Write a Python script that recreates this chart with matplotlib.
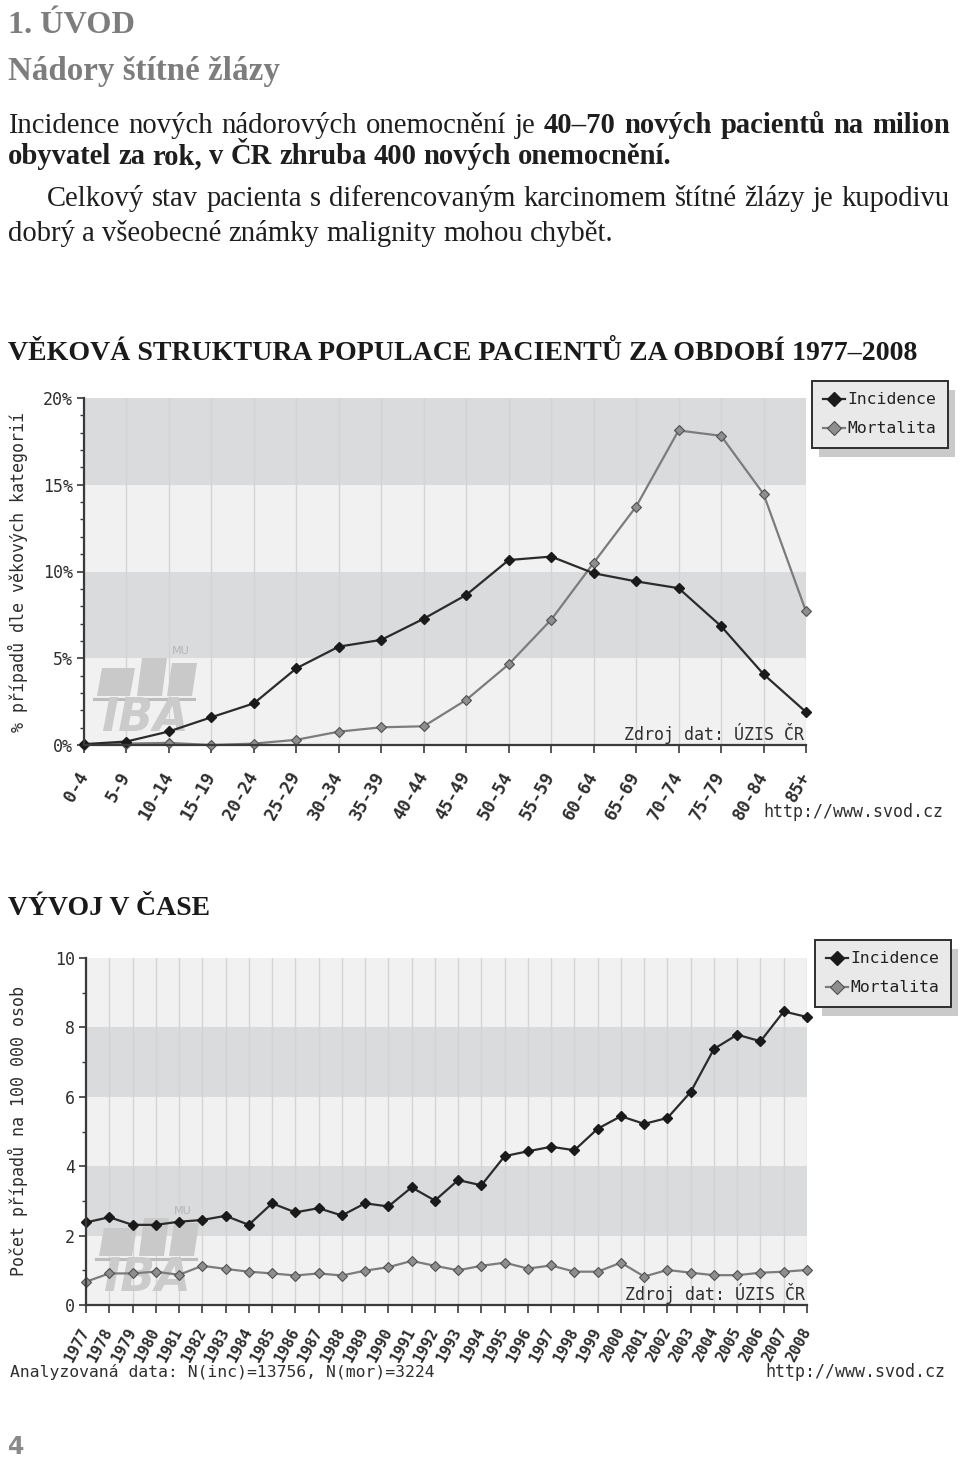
import matplotlib
matplotlib.use('Agg')
import matplotlib.pyplot as plt
from matplotlib.patches import Rectangle, Polygon
from matplotlib.lines import Line2D
from matplotlib.transforms import ScaledTranslation

W, H = 960, 1459
DPI = 100

# ---------------- data ----------------
age_groups = ['0-4', '5-9', '10-14', '15-19', '20-24', '25-29', '30-34', '35-39', '40-44',
              '45-49', '50-54', '55-59', '60-64', '65-69', '70-74', '75-79', '80-84', '85+']
age_incidence = [0.05, 0.2, 0.78, 1.6, 2.4, 4.42, 5.67, 6.06, 7.28, 8.65, 10.66, 10.86,
                 9.9, 9.43, 9.04, 6.85, 4.08, 1.9]
age_mortality = [0.0, 0.08, 0.12, 0.0, 0.08, 0.3, 0.77, 1.02, 1.08, 2.6, 4.65, 7.22,
                 10.5, 13.74, 18.13, 17.82, 14.47, 7.7]

years = [str(y) for y in range(1977, 2009)]
year_incidence = [2.38, 2.53, 2.31, 2.31, 2.40, 2.45, 2.57, 2.31, 2.93, 2.67, 2.79, 2.58,
                  2.93, 2.84, 3.39, 3.01, 3.60, 3.45, 4.29, 4.43, 4.56, 4.46, 5.08, 5.44,
                  5.22, 5.39, 6.14, 7.38, 7.79, 7.60, 8.46, 8.30]
year_mortality = [0.67, 0.91, 0.91, 0.96, 0.87, 1.13, 1.04, 0.96, 0.91, 0.85, 0.91, 0.85,
                  0.99, 1.09, 1.27, 1.13, 1.00, 1.13, 1.22, 1.05, 1.14, 0.96, 0.96, 1.22,
                  0.82, 1.01, 0.93, 0.86, 0.86, 0.93, 0.96, 1.01]

age_yticks = [0, 5, 10, 15, 20]
year_yticks = [0, 2, 4, 6, 8, 10]
series_names = ['Incidence', 'Mortalita']

# ---------------- setup ----------------
fig = plt.figure(figsize=(W / DPI, H / DPI), dpi=DPI)
fig.patch.set_facecolor('white')

MONO = 'DejaVu Sans Mono'
SERIF = 'Liberation Serif'
CTXT = '#2e2e2e'
DARK_BAND = '#dadbdd'
LIGHT_BAND = '#f1f1f1'
GRID = '#d4d4d4'
INC_C = '#2b2b2b'
MOR_C = '#7c7c7c'


def fx(px):
    return px / W


def fy(py):
    return 1 - py / H


renderer = fig.canvas.get_renderer()


def measure(s, size, weight):
    t = fig.text(0, 0, s, fontsize=size, fontweight=weight, family=SERIF)
    w = t.get_window_extent(renderer).width
    t.remove()
    return w


def space_w(size, weight):
    return measure('a a', size, weight) - measure('aa', size, weight)


def place_words(words, x0, baseline, size, color, target=None):
    widths = [measure(w, size, wt) for w, wt in words]
    sp = space_w(size, 'normal')
    n = len(words)
    natural = sum(widths) + sp * (n - 1)
    if target is not None and natural > target:
        size = size * target / natural * 0.995
        widths = [measure(w, size, wt) for w, wt in words]
        sp = space_w(size, 'normal')
    if target is not None and n > 1:
        gap = (target - sum(widths)) / (n - 1)
    else:
        gap = sp
    x = x0
    for (w, wt), wd in zip(words, widths):
        fig.text(fx(x), fy(baseline), w, fontsize=size, fontweight=wt, family=SERIF,
                 color=color, ha='left', va='baseline')
        x += wd + gap


def fit_text(s, x0, x1, baseline, weight, color, base=20):
    w = measure(s, base, weight)
    size = base * (x1 - x0) / w
    fig.text(fx(x0), fy(baseline), s, fontsize=size, fontweight=weight, family=SERIF,
             color=color, ha='left', va='baseline')


# ---------------- page text ----------------
fit_text('1. ÚVOD', 8, 135, 33, 'bold', '#7d7d7d')
fit_text('Nádory štítné žlázy', 8, 279, 80, 'bold', '#7d7d7d')

line4 = 'dobrý a všeobecné známky malignity mohou chybět.'
psize = 20 * 604 / measure(line4, 20, 'normal')
PC = '#1e1e1e'

l1 = [(w, 'normal') for w in 'Incidence nových nádorových onemocnění je'.split()] + \
     [(w, 'bold') for w in '40–70 nových pacientů na milion'.split()]
place_words(l1, 8, 133, psize, PC, target=942)
l2 = [(w, 'bold') for w in 'obyvatel za rok, v ČR zhruba 400 nových onemocnění.'.split()]
place_words(l2, 8, 164, psize, PC)
l3 = [(w, 'normal') for w in
      'Celkový stav pacienta s diferencovaným karcinomem štítné žlázy je kupodivu'.split()]
place_words(l3, 47, 206, psize, PC, target=903)
place_words([(w, 'normal') for w in line4.split()], 8, 241, psize, PC)

fit_text('VĚKOVÁ STRUKTURA POPULACE PACIENTŮ ZA OBDOBÍ 1977–2008', 8, 918, 360, 'bold', '#1a1a1a')
fit_text('VÝVOJ V ČASE', 8, 210, 915, 'bold', '#1a1a1a')

fig.text(fx(8), fy(1454), '4', fontsize=17, fontweight='bold', family='DejaVu Sans',
         color='#8a8a8a', ha='left', va='baseline')


# ---------------- charts ----------------
def add_logo(ax, wpx, hpx):
    def ax_pt(dx, dy):
        return (dx / wpx, dy / hpx)
    blocks = [(13, 46, 77), (53, 78, 87), (83, 108, 82)]
    for x0, x1, top in blocks:
        pts = [ax_pt(x0, 49), ax_pt(x1, 49), ax_pt(x1 + 5, top), ax_pt(x0 + 5, top)]
        ax.add_patch(Polygon(pts, closed=True, transform=ax.transAxes,
                             facecolor='#c9c9c9', edgecolor='none', zorder=1.5))
    ax.add_line(Line2D([10 / wpx, 110 / wpx], [46 / hpx, 46 / hpx], transform=ax.transAxes,
                       color='#bdbdbd', lw=2.2, zorder=1.5))
    ax.text(17 / wpx, 4 / hpx, 'IBA', transform=ax.transAxes, fontsize=33, fontweight='bold',
            fontstyle='italic', family='DejaVu Sans', color='#cbcbcb', ha='left',
            va='bottom', zorder=1.5)
    ax.text(88 / wpx, 89 / hpx, 'MU', transform=ax.transAxes, fontsize=8,
            family='DejaVu Sans', color='#b5b5b5', ha='left', va='bottom', zorder=1.5)


def make_chart(rect_px, labels, inc, mor, ymax, band, major, minor, fmt, xrot, xfs,
               xpad, ylabel, legend_px):
    left, top, right, bottom = rect_px
    wpx, hpx = right - left, bottom - top
    ax = fig.add_axes([fx(left), fy(bottom), wpx / W, hpx / H])
    ax.set_facecolor('none')
    n = len(labels)
    x = list(range(n))
    k = 0
    y0 = 0
    while y0 < ymax:
        ax.axhspan(y0, min(y0 + band, ymax), color=DARK_BAND if k % 2 else LIGHT_BAND,
                   lw=0, zorder=0)
        y0 += band
        k += 1
    for xi in x:
        ax.axvline(xi, color=GRID, lw=1.0, zorder=0.5)
    add_logo(ax, wpx, hpx)

    ax.plot(x, mor, color=MOR_C, lw=1.6, marker='D', ms=5.5, mfc='#8e8e8e', mec='#505050',
            mew=0.8, clip_on=False, zorder=3)
    ax.plot(x, inc, color=INC_C, lw=1.6, marker='D', ms=5.5, mfc='#1a1a1a', mec='#1a1a1a',
            clip_on=False, zorder=4)

    ax.set_xlim(0, n - 1)
    ax.set_ylim(0, ymax)
    ax.set_xticks(x)
    ax.set_xticklabels(labels, rotation=xrot, ha='right', va='center', rotation_mode='anchor',
                       fontsize=xfs, fontweight='bold', family=MONO, color=CTXT)
    off = ScaledTranslation(-3 / DPI, 0, fig.dpi_scale_trans)
    for lab in ax.get_xticklabels():
        lab.set_transform(lab.get_transform() + off)
    ax.tick_params(axis='x', direction='out', length=6, width=1.2, color='#3a3a3a', pad=xpad)
    ax.set_yticks(major)
    ax.set_yticklabels([fmt(v) for v in major], family=MONO, fontsize=12, color=CTXT)
    ax.set_yticks(minor, minor=True)
    ax.tick_params(axis='y', which='major', direction='out', length=5, width=1.2,
                   color='#3a3a3a', pad=3)
    ax.tick_params(axis='y', which='minor', direction='out', length=3, width=1.0,
                   color='#3a3a3a')
    for s in ['top', 'right']:
        ax.spines[s].set_visible(False)
    for s in ['left', 'bottom']:
        ax.spines[s].set_color('#3a3a3a')
        ax.spines[s].set_linewidth(1.6)
        ax.spines[s].set_zorder(5)

    ax.set_ylabel(ylabel, family=MONO, fontsize=12, color=CTXT)
    ax.yaxis.set_label_coords((28 - left) / wpx, 0.5)

    ax.text(1 - 2 / wpx, 12 / hpx, 'Zdroj dat: ÚZIS ČR', transform=ax.transAxes, ha='right',
            va='center', family=MONO, fontsize=12, color=CTXT, zorder=6)

    handles = [Line2D([], [], color=INC_C, lw=1.6, marker='D', ms=7, mfc='#1a1a1a',
                      mec='#1a1a1a'),
               Line2D([], [], color=MOR_C, lw=1.6, marker='D', ms=7, mfc='#8e8e8e',
                      mec='#505050', mew=0.8)]
    lx, ly = legend_px
    leg = fig.legend(handles, series_names, loc='upper left',
                     bbox_to_anchor=(fx(lx), fy(ly)), bbox_transform=fig.transFigure,
                     frameon=True, fancybox=False, edgecolor='#2e2e2e',
                     facecolor='#e9e9e9', framealpha=1, borderpad=0.7,
                     handlelength=1.3, handletextpad=0.15, labelspacing=0.85,
                     borderaxespad=0, prop={'family': MONO, 'size': 11.8})
    leg.get_frame().set_linewidth(1.4)
    for t in leg.get_texts():
        t.set_color('#222222')
    fig.canvas.draw()
    bb = leg.get_window_extent(fig.canvas.get_renderer())
    shadow = Rectangle((bb.x0 + 7, bb.y0 - 9), bb.width, bb.height, transform=None,
                       facecolor='#cacaca', edgecolor='none', zorder=4)
    fig.add_artist(shadow)
    return ax


make_chart((84, 398, 806, 745), age_groups, age_incidence, age_mortality, 20, 5,
           age_yticks, list(range(0, 21)), lambda v: '%d%%' % v, 60, 12.5, 14,
           '% případů dle věkových kategorií', (812, 381))
fig.text(fx(943), fy(812), 'http://www.svod.cz', family=MONO, fontsize=12, color=CTXT,
         ha='right', va='center')

make_chart((86, 958, 807, 1305), years, year_incidence, year_mortality, 10, 2,
           year_yticks, list(range(0, 11)), lambda v: '%d' % v, 62, 11, 11,
           'Počet případů na 100 000 osob', (815, 940))
fig.text(fx(945), fy(1372), 'http://www.svod.cz', family=MONO, fontsize=12, color=CTXT,
         ha='right', va='center')
fig.text(fx(10), fy(1372), 'Analyzovaná data: N(inc)=13756, N(mor)=3224', family=MONO,
         fontsize=11.8, color=CTXT, ha='left', va='center')

fig.savefig('out.png', dpi=DPI, facecolor='white')
